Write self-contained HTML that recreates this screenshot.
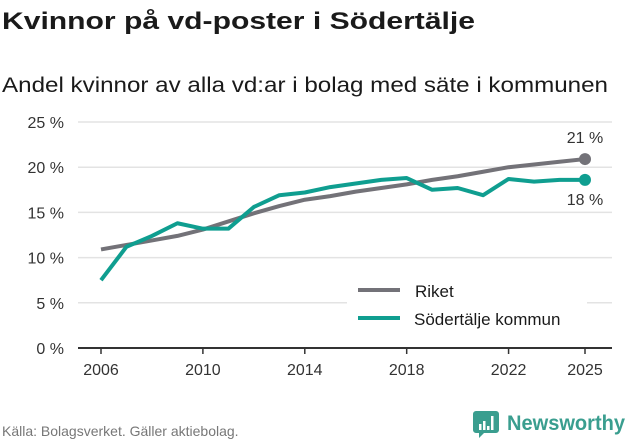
<!DOCTYPE html>
<html><head><meta charset="utf-8"><style>
html,body{margin:0;padding:0;background:#fff;}
svg{display:block;font-family:"Liberation Sans","DejaVu Sans",sans-serif;}
</style></head><body>
<svg id="chart" width="631" height="439" viewBox="0 0 631 439">
<text x="2" y="29" font-size="24" font-weight="bold" fill="#1a1a1a" textLength="473" lengthAdjust="spacingAndGlyphs">Kvinnor på vd-poster i Södertälje</text>
<text x="2" y="92" font-size="21" fill="#1a1a1a" textLength="606" lengthAdjust="spacingAndGlyphs">Andel kvinnor av alla vd:ar i bolag med säte i kommunen</text>
<g id="grid"></g><g id="yticks"></g><g id="xticks"></g><g id="series"></g>
<g>
<rect x="347" y="270" width="240" height="70" fill="#fff"/>
<line x1="358" y1="290" x2="400" y2="290" stroke="#737278" stroke-width="4"/>
<text x="415" y="297" font-size="17" fill="#1a1a1a">Riket</text>
<line x1="358" y1="318" x2="400" y2="318" stroke="#0f9e90" stroke-width="4"/>
<text x="414" y="325" font-size="17" fill="#1a1a1a">Södertälje kommun</text>
</g>
<text x="2" y="436" font-size="14" fill="#777">Källa: Bolagsverket. Gäller aktiebolag.</text>
<g>
<path d="M476 411 h20 a3 3 0 0 1 3 3 v16 a3 3 0 0 1 -3 3 h-12 l-5 5 v-5 h-3 a3 3 0 0 1 -3 -3 v-16 a3 3 0 0 1 3 -3z" fill="#3a9e8f"/>
<rect x="479" y="424" width="2.5" height="6" fill="#fff"/><rect x="483" y="421" width="2.5" height="9" fill="#fff"/><rect x="487" y="426" width="2.5" height="4" fill="#fff"/><rect x="491" y="416" width="2.5" height="14" fill="#fff"/>
<text x="507" y="430" font-size="21" font-weight="bold" fill="#3a9e8f" textLength="118" lengthAdjust="spacingAndGlyphs">Newsworthy</text>
</g>
</svg>
<script>
const years=[2006,2007,2008,2009,2010,2011,2012,2013,2014,2015,2016,2017,2018,2019,2020,2021,2022,2023,2024,2025];
const riket=[10.9,11.4,11.9,12.4,13.1,14.0,14.9,15.7,16.4,16.8,17.3,17.7,18.1,18.6,19.0,19.5,20.0,20.3,20.6,20.9];
const sodertalje=[7.5,11.2,12.4,13.8,13.2,13.2,15.6,16.9,17.2,17.8,18.2,18.6,18.8,17.5,17.7,16.9,18.7,18.4,18.6,18.6];
const endLabels=['21 %','18 %'];
const yTicks=[0,5,10,15,20,25];
const xTicks=[2006,2010,2014,2018,2022,2025];
const NS="http://www.w3.org/2000/svg";
const x=v=>101+(v-2006)*(585-101)/(2025-2006);
const y=v=>348-v*(348-122)/25;
function mk(t,a,p){const e=document.createElementNS(NS,t);for(const k in a)e.setAttribute(k,a[k]);p.appendChild(e);return e;}
const g=document.getElementById('grid'),yt=document.getElementById('yticks'),xt=document.getElementById('xticks'),s=document.getElementById('series');
yTicks.forEach(v=>{
 if(v>0){const l=mk('line',{x1:78,x2:612,y1:y(v),y2:y(v),stroke:'#e3e3e3','stroke-width':1.5},g);
 
 }
 const t=mk('text',{x:64,y:y(v)+6,'font-size':16,fill:'#333','text-anchor':'end'},yt);t.textContent=v+' %';
 
 
});
const ax=mk('line',{x1:78,x2:612,y1:348,y2:348,stroke:'#333','stroke-width':2},g);


xTicks.forEach(v=>{
 const tk=mk('line',{x1:x(v),x2:x(v),y1:348,y2:354,stroke:'#333','stroke-width':1.5},xt);
 
 
 const t=mk('text',{x:x(v),y:375,'font-size':16,fill:'#333','text-anchor':'middle'},xt);t.textContent=v;
 
 
});
function line(vals,col,name){
 const p=mk('polyline',{points:vals.map((v,i)=>x(years[i])+','+y(v)).join(' '),fill:'none',stroke:col,'stroke-width':4,'stroke-linejoin':'round'},s);
 
 
 const n=vals.length-1;
 const c=mk('circle',{cx:x(years[n]),cy:y(vals[n]),r:6,fill:col},s);
 
 
}
line(riket,'#737278','riket');
line(sodertalje,'#0f9e90','sodertalje');
const nr=riket.length-1,ns=sodertalje.length-1;
const l1=mk('text',{x:x(years[nr]),y:y(riket[nr])-16,'font-size':16,fill:'#333','text-anchor':'middle'},s);l1.textContent=endLabels[0];


const l2=mk('text',{x:x(years[ns]),y:y(sodertalje[ns])+25,'font-size':16,fill:'#333','text-anchor':'middle'},s);l2.textContent=endLabels[1];


</script>
</body></html>
